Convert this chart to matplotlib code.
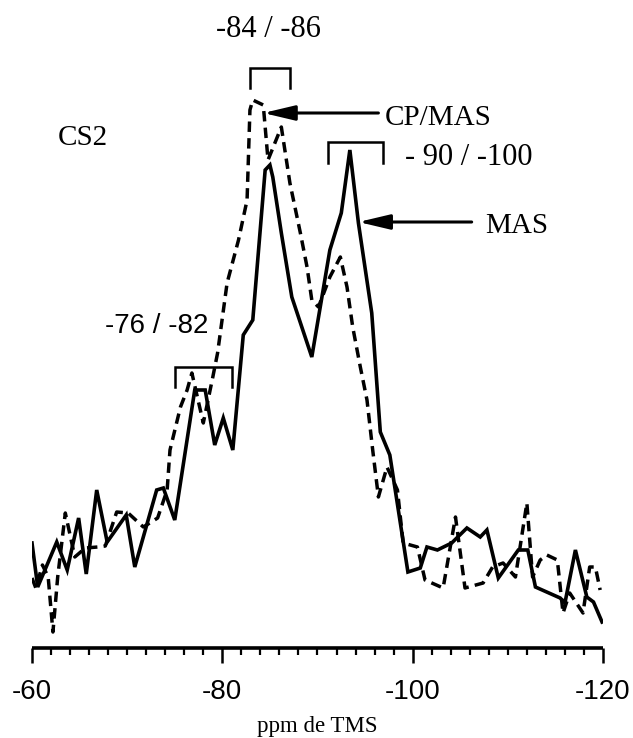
import matplotlib
matplotlib.use('Agg')
import matplotlib.pyplot as plt
from matplotlib.ticker import MultipleLocator, FixedLocator

SERIF = 'Liberation Serif'
SANS = 'Liberation Sans'

# MAS spectrum (solid line): chemical shift (ppm) and intensity (a.u.)
mas_ppm = [-60.0, -60.6, -62.6, -63.7, -64.9, -65.7, -66.8, -67.9, -69.9, -70.8,
           -73.1, -73.8, -75.0, -77.1, -78.2, -79.2, -80.1, -81.1, -82.2, -83.2,
           -84.5, -85.0, -85.3, -86.2, -87.3, -89.4, -91.3, -92.5, -93.4, -94.3,
           -95.7, -96.6, -97.6, -99.5, -100.8, -101.5, -102.6, -104.1, -105.7, -107.1,
           -107.8, -109.0, -111.1, -112.1, -112.9, -115.5, -116.0, -117.1, -118.3, -119.0,
           -119.9]
mas_int = [105, 61, 106, 78, 130, 74, 158, 106, 133, 81,
           158, 160, 128, 258, 258, 203, 230, 198, 313, 328,
           478, 483, 471, 415, 351, 291, 398, 435, 498, 425,
           335, 216, 193, 76, 80, 101, 98, 105, 120, 111,
           118, 70, 98, 98, 61, 50, 45, 98, 51, 46,
           26]

# CP/MAS spectrum (dashed line)
cpmas_ppm = [-60.0, -60.4, -61.1, -61.7, -62.2, -62.7, -63.5, -64.0, -64.5, -65.6,
             -66.9, -67.7, -68.9, -70.1, -71.7, -73.2, -74.2, -74.5, -75.6, -76.3,
             -76.8, -78.0, -79.0, -79.5, -80.5, -81.7, -82.6, -82.9, -83.2, -84.3,
             -84.8, -86.2, -87.1, -88.2, -88.9, -89.4, -90.1, -91.3, -92.4, -93.1,
             -93.7, -94.5, -95.2, -95.8, -96.4, -97.3, -98.4, -99.0, -100.5, -101.3,
             -103.2, -104.5, -105.5, -107.4, -108.4, -109.5, -110.8, -112.0, -112.6, -113.4,
             -114.1, -115.2, -115.8, -116.5, -117.9, -118.6, -119.2, -119.7]
cpmas_int = [70, 60, 83, 71, 16, 71, 135, 113, 91, 100,
             101, 102, 136, 135, 121, 130, 158, 198, 241, 258,
             275, 225, 271, 295, 365, 408, 448, 538, 548, 543,
             488, 521, 465, 415, 381, 348, 341, 371, 391, 361,
             321, 281, 248, 198, 151, 181, 158, 105, 101, 68,
             60, 131, 60, 65, 81, 85, 71, 145, 71, 88,
             93, 88, 35, 55, 35, 81, 81, 58]

major_ticks = [-60, -80, -100, -120]

fig = plt.figure(figsize=(6.33, 7.38), dpi=100)
ax = fig.add_axes([32 / 633, 90 / 738, 571 / 633, 648 / 738])

ax.plot(mas_ppm, mas_int, color='black', lw=2.6, solid_joinstyle='miter')
ax.plot(cpmas_ppm, cpmas_int, color='black', lw=2.5, linestyle=(0, (3.0, 1.8)))

ax.set_xlim(-60, -120)
ax.set_ylim(0, 648)

for side in ['top', 'left', 'right']:
    ax.spines[side].set_visible(False)
ax.spines['bottom'].set_linewidth(2.6)
ax.spines['bottom'].set_capstyle('butt')
ax.set_yticks([])

ax.xaxis.set_major_locator(FixedLocator(major_ticks))
ax.xaxis.set_minor_locator(MultipleLocator(2))
ax.tick_params(axis='x', which='major', direction='out', length=11, width=1.8, pad=11,
               labelsize=20)
ax.tick_params(axis='x', which='minor', direction='out', length=5, width=1.6)
ax.set_xticklabels([str(t) for t in major_ticks], family=SANS, fontsize=20)
ax.set_xlabel('ppm de TMS', family=SERIF, fontsize=16.5, labelpad=8)

# Brackets marking the chemical-shift regions
def bracket(x0, x1, top, bottom):
    ax.plot([x0, x0, x1, x1], [bottom, top, top, bottom], color='black', lw=1.8,
            solid_joinstyle='miter', clip_on=False)

bracket(-82.9, -87.1, 580, 560)
bracket(-91.1, -96.9, 506, 485)
bracket(-75.0, -81.0, 281, 261)

ax.text(-84.8, 611, '-84 / -86', family=SERIF, fontsize=22, ha='center', va='baseline')
ax.text(-99.2, 483, '- 90 / -100', family=SERIF, fontsize=22, ha='left', va='baseline')
ax.text(-73.1, 315, '-76 / -82', family=SANS, fontsize=20, ha='center', va='baseline')
ax.text(-62.7, 503, 'CS2', family=SERIF, fontsize=21, ha='left', va='baseline')

# Arrows to the two spectra
arrow = dict(arrowstyle='-|>,head_length=1.9,head_width=0.45', color='black', lw=2.2,
             shrinkA=0, shrinkB=0)
ax.annotate('', xy=(-84.3, 535), xytext=(-96.4, 535), arrowprops=arrow)
ax.text(-97.1, 523, 'CP/MAS', family=SERIF, fontsize=21, ha='left', va='baseline')
ax.annotate('', xy=(-94.3, 426), xytext=(-106.2, 426), arrowprops=arrow)
ax.text(-107.6, 415, 'MAS', family=SERIF, fontsize=21, ha='left', va='baseline')

fig.savefig('out.png', dpi=100)
